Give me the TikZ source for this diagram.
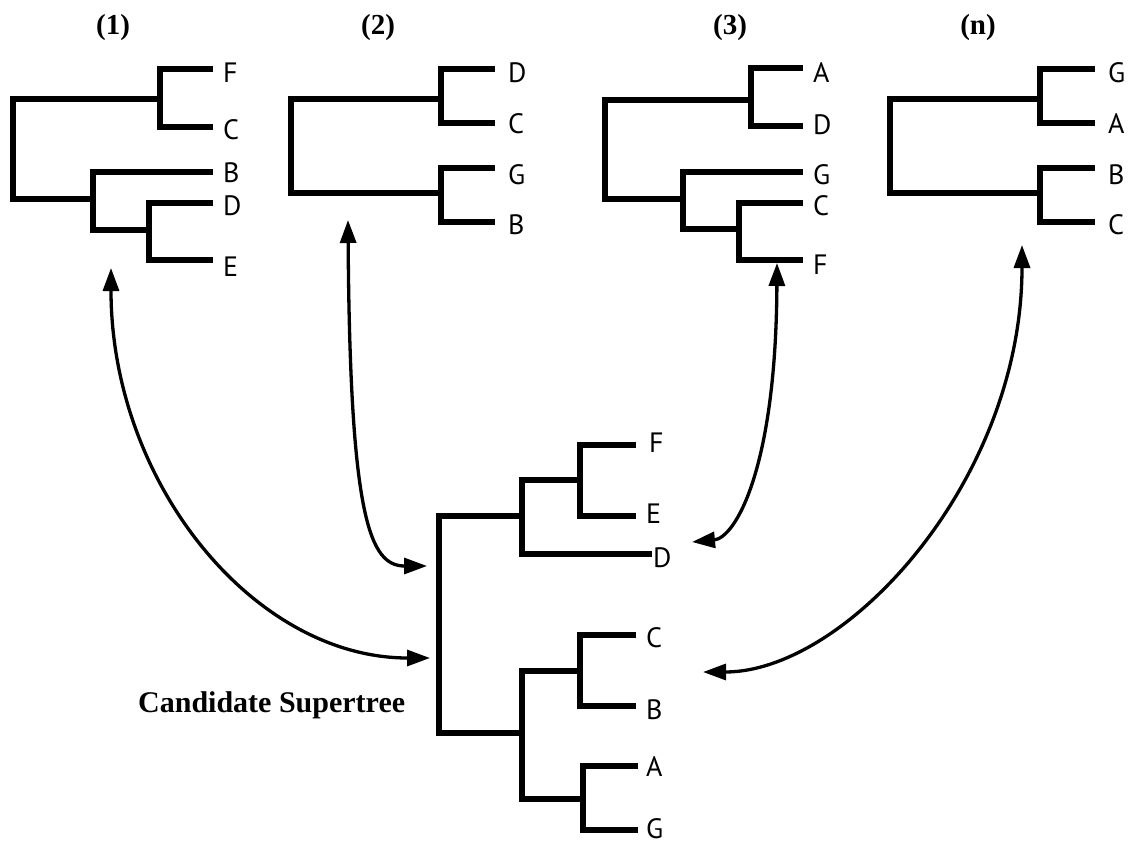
\documentclass[tikz,border=0pt]{standalone}
\usepackage{fontspec}
\setmainfont{Liberation Serif}
\newfontfamily\leaffont{PT Sans}
\usetikzlibrary{arrows.meta}
\begin{document}
\begin{tikzpicture}[x=1pt,y=-1pt,
  branch/.style={line width=6.5pt, line join=miter, line cap=butt},
  leaf/.style={anchor=west, inner sep=0pt, font=\leaffont\fontsize{28}{28}\selectfont},
  ttl/.style={anchor=base, inner sep=0pt, font=\bfseries\fontsize{29}{29}\selectfont},
  link/.style={line width=3.3pt, {Triangle[length=23pt,width=16pt]}-{Triangle[length=23pt,width=16pt]}}]
\useasboundingbox (0,0) rectangle (1135,845);

% titles
\node[ttl] (t1) at (113,35) {(1)};
\node[ttl] (t2) at (378,35) {(2)};
\node[ttl] (t3) at (730,35) {(3)};
\node[ttl] (tn) at (978,35) {(n)};
\node[anchor=base west, inner sep=0pt, font=\bfseries\fontsize{30}{30}\selectfont] (cs) at (138,712) {Candidate Supertree};

% tree 1
\draw[branch] (213,69) -| (160,127) -- (213,127);
\draw[branch] (160,99) -| (13,199) -- (93,199);
\draw[branch] (213,172) -| (93,230) -- (149,230);
\draw[branch] (213,203) -| (149,260) -- (213,260);
\node[leaf] (a-F) at (223,73) {F};
\node[leaf] (a-C) at (223,130) {C};
\node[leaf] (a-B) at (223,173) {B};
\node[leaf] (a-D) at (223,206) {D};
\node[leaf] (a-E) at (223,267) {E};

% tree 2
\draw[branch] (495,69) -| (441,123) -- (495,123);
\draw[branch] (495,168) -| (441,222) -- (495,222);
\draw[branch] (441,99) -| (291,193) -- (441,193);
\node[leaf] (b-D) at (508,73) {D};
\node[leaf] (b-C) at (508,124) {C};
\node[leaf] (b-G) at (508,175) {G};
\node[leaf] (b-B) at (508,225) {B};

% tree 3
\draw[branch] (803,68) -| (751,126) -- (803,126);
\draw[branch] (751,100) -| (605,199) -- (683,199);
\draw[branch] (803,172) -| (683,229) -- (739,229);
\draw[branch] (803,203) -| (739,260) -- (803,260);
\node[leaf] (c-A) at (813,73) {A};
\node[leaf] (c-D) at (813,125) {D};
\node[leaf] (c-G) at (813,175) {G};
\node[leaf] (c-C) at (813,206) {C};
\node[leaf] (c-F) at (813,265) {F};

% tree n
\draw[branch] (1095,69) -| (1040,123) -- (1095,123);
\draw[branch] (1095,168) -| (1040,222) -- (1095,222);
\draw[branch] (1040,99) -| (890,193) -- (1040,193);
\node[leaf] (n-G) at (1108,73) {G};
\node[leaf] (n-A) at (1108,124) {A};
\node[leaf] (n-B) at (1108,175) {B};
\node[leaf] (n-C) at (1108,225) {C};

% supertree
\draw[branch] (636,445) -| (580,516) -- (636,516);
\draw[branch] (580,480) -| (522,554) -- (652,554);
\draw[branch] (522,516) -| (439,733) -- (522,733);
\draw[branch] (636,635) -| (580,706) -- (636,706);
\draw[branch] (580,671) -| (522,799) -- (583,799);
\draw[branch] (638,766) -| (583,830) -- (638,830);
\node[leaf] (s-F) at (649,443) {F};
\node[leaf] (s-E) at (646,514) {E};
\node[leaf] (s-D) at (653,558) {D};
\node[leaf] (s-C) at (646,638) {C};
\node[leaf] (s-B) at (646,710) {B};
\node[leaf] (s-A) at (646,767) {A};
\node[leaf] (s-G) at (646,829) {G};

% connectors
\coordinate (p1) at (111,268);
\coordinate (q1) at (430,658);
\coordinate (p2) at (348,220);
\coordinate (q2) at (427,566);
\coordinate (p3) at (777,263);
\coordinate (q3) at (692,542);
\coordinate (p4) at (1022,245);
\coordinate (q4) at (703,672);
\draw[link] (p1) .. controls (111,483) and (254,658) .. (q1);
\draw[link] (p2) .. controls (350,520) and (370,566) .. (q2);
\draw[link] (p3) .. controls (776,470) and (735,538) .. (q3);
\draw[link] (p4) .. controls (1022,481) and (846,672) .. (q4);
\end{tikzpicture}
\end{document}
